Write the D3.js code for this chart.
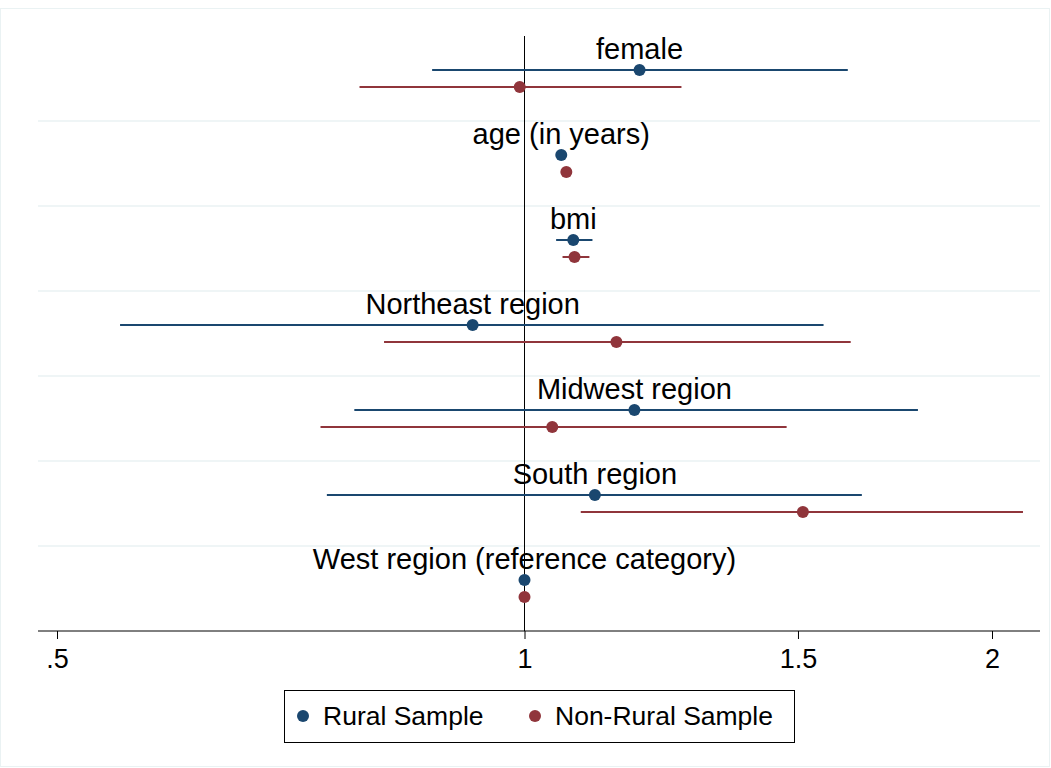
<!DOCTYPE html><html><head><meta charset="utf-8">
<script src="https://cdn.jsdelivr.net/npm/d3@7"></script>
<style>body{margin:0;background:#fff}text{font-family:"Liberation Sans",Arial,sans-serif}</style></head><body>
<svg id="c" width="1051" height="768"></svg>
<script>
const labels=["female","age (in years)","bmi","Northeast region","Midwest region","South region","West region (reference category)"];
const rural=[1.186,1.056,1.075,0.926,1.177,1.110,1];
const ruralLo=[0.872,1.05,1.048,0.549,0.777,0.746,1];
const ruralHi=[1.615,1.062,1.106,1.558,1.792,1.649,1];
const nonrural=[0.993,1.064,1.077,1.146,1.042,1.511,1];
const nonruralLo=[0.783,1.058,1.058,0.812,0.739,1.087,1];
const nonruralHi=[1.262,1.07,1.101,1.622,1.475,2.094,1];
const ticks=[0.5,1,1.5,2], tickLabels=[".5","1","1.5","2"];
const blue="#1a476f", red="#90353b";
const svg=d3.select("#c");
svg.append("rect").attr("x",0.5).attr("y",8.5).attr("width",1049).attr("height",758).attr("fill","none").attr("stroke","#eaf2f3");
const x=d3.scaleLog().domain([0.5,2]).range([57,992]);
const y=d3.scaleBand().domain(d3.range(7)).range([36,631]);
for(let i=1;i<7;i++) svg.append("line").attr("x1",38).attr("x2",1040).attr("y1",y(i)).attr("y2",y(i)).attr("stroke","#eaf2f3").attr("stroke-width",1.5);
svg.append("line").attr("x1",x(1)).attr("x2",x(1)).attr("y1",36).attr("y2",631).attr("stroke","#000");
const ax=svg.append("g").attr("transform","translate(0,631)").call(d3.axisBottom(x).tickValues(ticks).tickFormat((d,i)=>tickLabels[i]).tickSize(8).tickSizeOuter(0));
ax.select(".domain").attr("d","M38,0H1040");
ax.selectAll("text").attr("font-size",27).attr("font-family","Liberation Sans, Arial").attr("dy","0.95em");
const bw=y.bandwidth();
function series(v,lo,hi,col,off){
  const g=svg.append("g");
  g.selectAll("line").data(v).join("line").attr("x1",(d,i)=>x(lo[i])).attr("x2",(d,i)=>x(hi[i]))
   .attr("y1",(d,i)=>y(i)+off).attr("y2",(d,i)=>y(i)+off).attr("stroke",col).attr("stroke-width",2);
  g.selectAll("circle").data(v).join("circle").attr("cx",d=>x(d)).attr("cy",(d,i)=>y(i)+off).attr("r",6).attr("fill",col);
}
series(rural,ruralLo,ruralHi,blue,bw*0.4);
series(nonrural,nonruralLo,nonruralHi,red,bw*0.6);
svg.selectAll(".lab").data(labels).join("text").attr("x",(d,i)=>x(rural[i])).attr("y",(d,i)=>y(i)+bw*0.4-11)
 .attr("text-anchor","middle").attr("font-size",29).text(d=>d);
const lg=svg.append("g");
lg.append("rect").attr("x",284.5).attr("y",690.5).attr("width",510).attr("height",52).attr("fill","#fff").attr("stroke","#000");
[[blue,"Rural Sample",303],[red,"Non-Rural Sample",535]].forEach(([c,t,px])=>{
 lg.append("circle").attr("cx",px).attr("cy",716).attr("r",6).attr("fill",c);
 lg.append("text").attr("x",px+20).attr("y",725).attr("font-size",26.5).text(t);
});
</script></body></html>
